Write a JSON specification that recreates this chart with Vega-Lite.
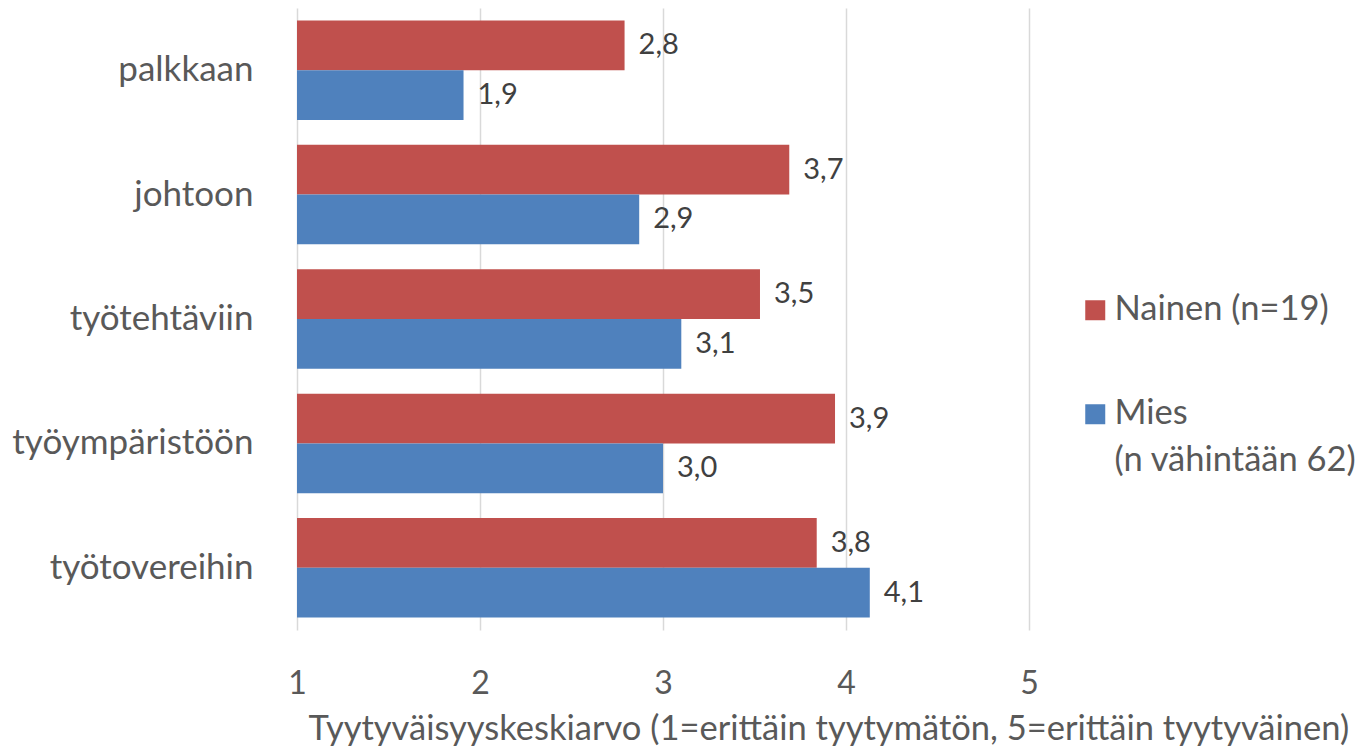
{
  "$schema": "https://vega.github.io/schema/vega-lite/v6.json",
  "width": 732,
  "height": 622,
  "autosize": {"type": "none"},
  "padding": {"left": 297, "top": 8, "right": 336, "bottom": 120},
  "background": "white",
  "config": {
    "font": "Lato",
    "view": {"stroke": null},
    "style": {"guide-label": {"lineHeight": 47}},
    "locale": {"number": {"decimal": ",", "thousands": " ", "grouping": [3], "currency": ["", " €"]}}
  },
  "data": {
    "values": [
      {"kohde": "palkkaan", "sukupuoli": "Nainen (n=19)", "arvo": 2.79},
      {"kohde": "palkkaan", "sukupuoli": "Mies", "arvo": 1.91},
      {"kohde": "johtoon", "sukupuoli": "Nainen (n=19)", "arvo": 3.69},
      {"kohde": "johtoon", "sukupuoli": "Mies", "arvo": 2.87},
      {"kohde": "työtehtäviin", "sukupuoli": "Nainen (n=19)", "arvo": 3.53},
      {"kohde": "työtehtäviin", "sukupuoli": "Mies", "arvo": 3.10},
      {"kohde": "työympäristöön", "sukupuoli": "Nainen (n=19)", "arvo": 3.94},
      {"kohde": "työympäristöön", "sukupuoli": "Mies", "arvo": 3.00},
      {"kohde": "työtovereihin", "sukupuoli": "Nainen (n=19)", "arvo": 3.84},
      {"kohde": "työtovereihin", "sukupuoli": "Mies", "arvo": 4.13}
    ]
  },
  "encoding": {
    "y": {
      "field": "kohde", "type": "nominal",
      "sort": ["palkkaan", "johtoon", "työtehtäviin", "työympäristöön", "työtovereihin"],
      "scale": {"paddingInner": 0.2, "paddingOuter": 0.1},
      "axis": {"title": null, "domain": false, "ticks": false, "labelPadding": 44, "labelFontSize": 35, "labelColor": "#595959", "labelLimit": 400}
    },
    "yOffset": {"field": "sukupuoli", "type": "nominal", "sort": ["Nainen (n=19)", "Mies"]},
    "x": {
      "field": "arvo", "type": "quantitative",
      "scale": {"domain": [1, 5], "zero": false, "nice": false},
      "axis": {
        "title": "Tyytyväisyyskeskiarvo (1=erittäin tyytymätön, 5=erittäin tyytyväinen)",
        "values": [1, 2, 3, 4, 5],
        "format": "d",
        "domain": false, "ticks": false, "labelFlush": false,
        "grid": true, "gridColor": "#d9d9d9", "gridWidth": 1.5,
        "labelPadding": 38, "labelFontSize": 32, "labelColor": "#595959",
        "titleFontSize": 34.5, "titleFontWeight": "normal", "titleColor": "#595959",
        "titleAnchor": "start", "titleAlign": "left", "titleX": 11, "titleY": 109, "titleBaseline": "alphabetic", "titleLimit": 1100
      }
    },
    "color": {
      "field": "sukupuoli", "type": "nominal",
      "sort": ["Nainen (n=19)", "Mies"],
      "scale": {"domain": ["Nainen (n=19)", "Mies"], "range": ["#C0504D", "#4F81BD"]},
      "legend": {
        "title": null, "orient": "none", "legendX": 781, "legendY": 285,
        "symbolType": "square", "symbolSize": 400, "symbolStrokeWidth": 0, "symbolOpacity": 1,
        "labelFontSize": 34.5, "labelColor": "#595959", "labelOffset": 2,
        "labelExpr": "datum.label == 'Mies' ? ['Mies', '(n vähintään 62)'] : datum.label",
        "rowPadding": 69, "labelLimit": 400
      }
    }
  },
  "layer": [
    {"mark": {"type": "bar"}, "encoding": {"x2": {"datum": 1}}},
    {
      "mark": {"type": "text", "align": "left", "baseline": "middle", "dx": 14, "fontSize": 29},
      "encoding": {"text": {"field": "arvo", "type": "quantitative", "format": ".1f"}, "color": {"value": "#404040"}}
    }
  ]
}
